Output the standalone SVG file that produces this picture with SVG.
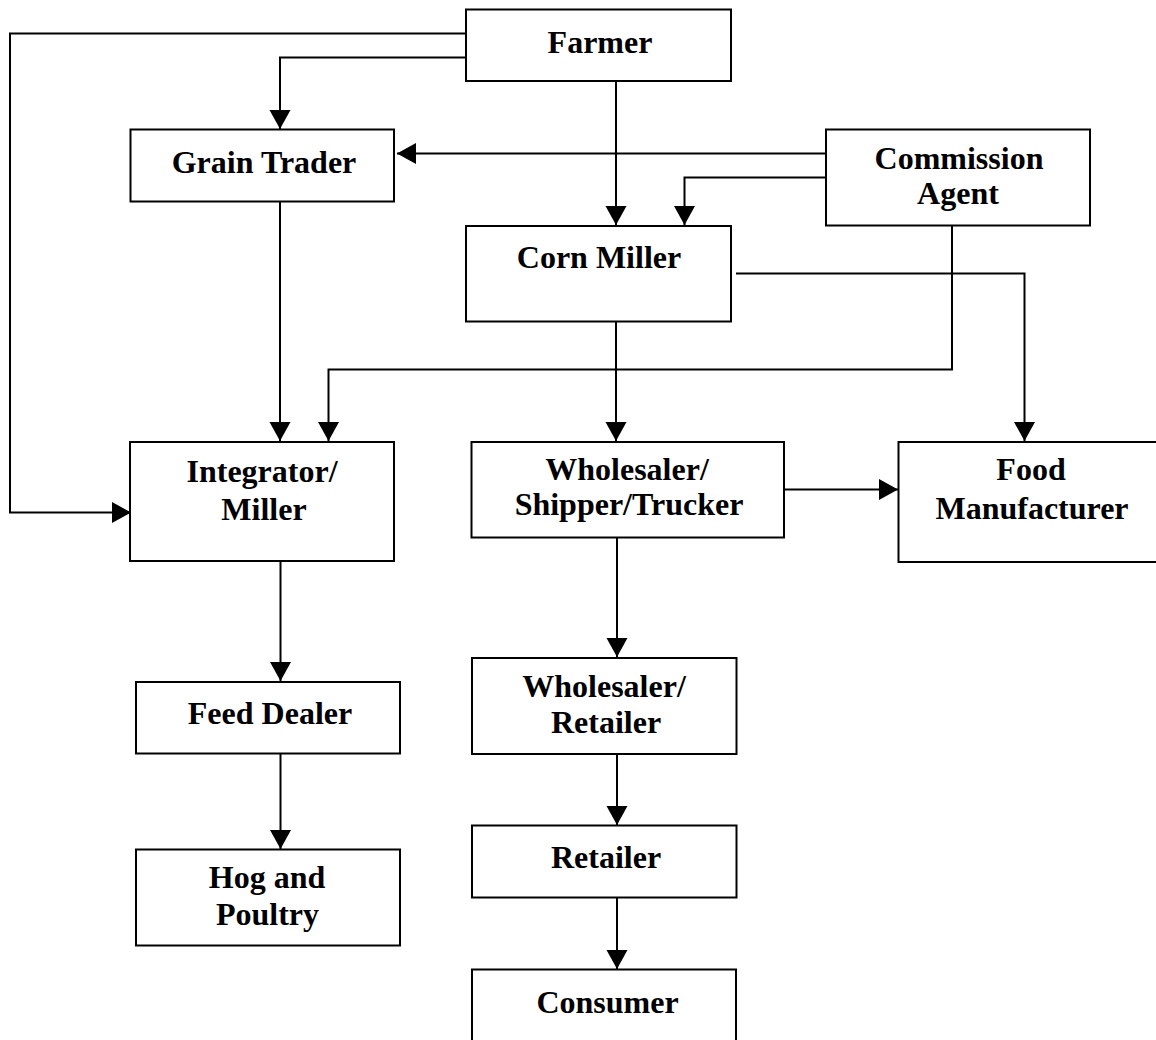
<svg xmlns="http://www.w3.org/2000/svg" width="1156" height="1040" viewBox="0 0 1156 1040">
  <style>
    .box { fill: #ffffff; stroke: #000000; stroke-width: 2; }
    .lbl { font-family: "Liberation Serif", "Times New Roman", serif; font-weight: bold; font-size: 32px; fill: #000000; text-anchor: middle; }
    .wire { fill: none; stroke: #000000; stroke-width: 2; marker-end: url(#head); }
    .plain { fill: none; stroke: #000000; stroke-width: 2; }
  </style>
  <defs>
    <marker id="head" markerUnits="userSpaceOnUse" markerWidth="20" markerHeight="22" refX="19" refY="10.5" orient="auto">
      <path d="M0,0 L19,10.5 L0,21 Z" fill="#000000"/>
    </marker>
  </defs>
  <rect width="1156" height="1040" fill="#ffffff"/>

  <g id="connectors">
    <!-- Farmer to Integrator/Miller, around the left side -->
    <polyline class="wire" points="466,33.5 10,33.5 10,512.5 131,512.5"/>
    <!-- Farmer to Grain Trader -->
    <polyline class="wire" points="470,57.5 280,57.5 280,129"/>
    <!-- Farmer to Corn Miller -->
    <polyline class="wire" points="616,81 616,225"/>
    <!-- Commission Agent to Grain Trader -->
    <polyline class="wire" points="826,153.5 397,153.5"/>
    <!-- Commission Agent to Corn Miller -->
    <polyline class="wire" points="826,177.5 684.5,177.5 684.5,225"/>
    <!-- Commission Agent to Integrator/Miller -->
    <polyline class="wire" points="952,226 952,369.5 328.5,369.5 328.5,441"/>
    <!-- Corn Miller to Food Manufacturer -->
    <polyline class="wire" points="736,273.5 1024.5,273.5 1024.5,441"/>
    <!-- Corn Miller to Wholesaler/Shipper/Trucker -->
    <polyline class="wire" points="616,321 616,441"/>
    <!-- Grain Trader to Integrator/Miller -->
    <polyline class="wire" points="280,201 280,441"/>
    <!-- Wholesaler/Shipper/Trucker to Food Manufacturer -->
    <polyline class="wire" points="784,489.5 898,489.5"/>
    <!-- Integrator/Miller to Feed Dealer -->
    <polyline class="wire" points="280.5,561 280.5,681"/>
    <!-- Feed Dealer to Hog and Poultry -->
    <polyline class="wire" points="280.5,753 280.5,849"/>
    <!-- Wholesaler/Shipper/Trucker to Wholesaler/Retailer -->
    <polyline class="wire" points="617,537 617,657"/>
    <!-- Wholesaler/Retailer to Retailer -->
    <polyline class="wire" points="617,754 617,825"/>
    <!-- Retailer to Consumer -->
    <polyline class="wire" points="617,898 617,969"/>
  </g>

  <g id="farmer">
    <rect class="box" x="466" y="9.5" width="265" height="71.5"/>
    <text class="lbl" x="600" y="53">Farmer</text>
  </g>
  <g id="grain-trader">
    <rect class="box" x="130.5" y="129.5" width="263.5" height="72"/>
    <text class="lbl" x="264" y="173">Grain Trader</text>
  </g>
  <g id="commission-agent">
    <rect class="box" x="826" y="129.5" width="264" height="96"/>
    <text class="lbl" x="959" y="169">Commission</text>
    <text class="lbl" x="958" y="204">Agent</text>
  </g>
  <g id="corn-miller">
    <rect class="box" x="466" y="226" width="265" height="95.5"/>
    <text class="lbl" x="599" y="268">Corn Miller</text>
  </g>
  <g id="integrator-miller">
    <rect class="box" x="130" y="442" width="264" height="119"/>
    <text class="lbl" x="262" y="482">Integrator/</text>
    <text class="lbl" x="264" y="520">Miller</text>
  </g>
  <g id="wholesaler-shipper-trucker">
    <rect class="box" x="471.5" y="442" width="312.5" height="95.5"/>
    <text class="lbl" x="627" y="480">Wholesaler/</text>
    <text class="lbl" x="629" y="515">Shipper/Trucker</text>
  </g>
  <g id="food-manufacturer">
    <rect class="box" x="898.5" y="442" width="268" height="120"/>
    <text class="lbl" x="1031" y="480">Food</text>
    <text class="lbl" x="1032" y="519">Manufacturer</text>
  </g>
  <g id="feed-dealer">
    <rect class="box" x="136" y="682" width="264" height="71.5"/>
    <text class="lbl" x="270" y="724">Feed Dealer</text>
  </g>
  <g id="hog-and-poultry">
    <rect class="box" x="136" y="849.5" width="264" height="96"/>
    <text class="lbl" x="267" y="888">Hog and</text>
    <text class="lbl" x="267.5" y="925">Poultry</text>
  </g>
  <g id="wholesaler-retailer">
    <rect class="box" x="472" y="658" width="264.5" height="96"/>
    <text class="lbl" x="604" y="697">Wholesaler/</text>
    <text class="lbl" x="606" y="733">Retailer</text>
  </g>
  <g id="retailer">
    <rect class="box" x="472" y="825.5" width="264.5" height="72"/>
    <text class="lbl" x="606" y="868">Retailer</text>
  </g>
  <g id="consumer">
    <rect class="box" x="472" y="969.5" width="264" height="90"/>
    <text class="lbl" x="607.5" y="1013">Consumer</text>
  </g>
</svg>
